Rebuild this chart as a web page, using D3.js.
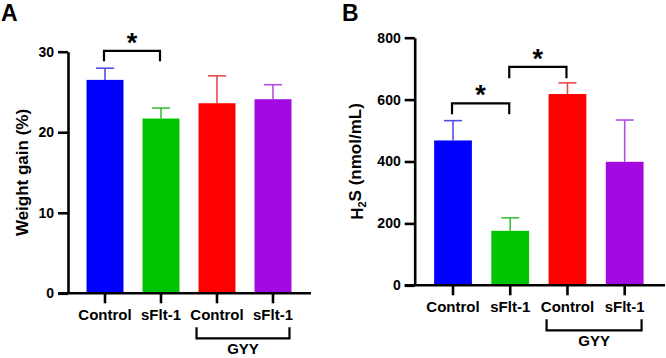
<!DOCTYPE html>
<html>
<head>
<meta charset="utf-8">
<script src="https://cdn.jsdelivr.net/npm/d3@7"></script>
<style>
  body { margin: 0; background: #fff; }
  text { font-family: "Liberation Sans", Arial, sans-serif; font-weight: bold; }
</style>
</head>
<body>
<svg id="chart" width="666" height="358"></svg>
<script>
// data
const categories = ['Control', 'sFlt-1', 'Control', 'sFlt-1'];
const barColors = ['#0000ff', '#00c400', '#ff0000', '#a30ae2'];
const errColors = ['#4f4fe6', '#3cbf3c', '#e84a4a', '#b44ee6'];

const weightGain = [26.5, 21.7, 23.6, 24.1];
const weightGainErr = [1.45, 1.3, 3.4, 1.8];
const weightTicks = [0, 10, 20, 30];

const h2s = [468, 176, 618, 399];
const h2sErr = [64, 42, 36, 135];
const h2sTicks = [0, 200, 400, 600, 800];

// significance brackets: [from, to, level, leftLeg, rightLeg]
const weightSig = [[0, 1, 30.1, 28.8, 28.8]];
const h2sSig = [[0, 1, 588, 553, 553], [1, 2, 706, 669, 669]];

const svg = d3.select('#chart');

function panel(opt) {
  const g = svg.append('g');
  const y = d3.scaleLinear().domain([0, opt.max]).range([opt.bottom, opt.top]);
  const x = d3.scaleBand().domain(d3.range(categories.length))
    .range(opt.xRange).paddingInner(0.34).paddingOuter(0.17);
  const bw = x.bandwidth();
  const cx = i => x(i) + bw / 2;

  // bars
  g.selectAll('.bar').data(opt.values).enter().append('rect')
    .attr('x', (d, i) => x(i))
    .attr('y', d => y(d))
    .attr('width', bw)
    .attr('height', d => y(0) - y(d))
    .attr('fill', (d, i) => barColors[i]);

  // upper error bars
  const eb = g.selectAll('.err').data(opt.values).enter().append('g');
  eb.append('line')
    .attr('x1', (d, i) => cx(i)).attr('x2', (d, i) => cx(i))
    .attr('y1', d => y(d)).attr('y2', (d, i) => y(d + opt.errs[i]))
    .attr('stroke', (d, i) => errColors[i]).attr('stroke-width', 1.6);
  eb.append('line')
    .attr('x1', (d, i) => cx(i) - 9).attr('x2', (d, i) => cx(i) + 9)
    .attr('y1', (d, i) => y(d + opt.errs[i])).attr('y2', (d, i) => y(d + opt.errs[i]))
    .attr('stroke', (d, i) => errColors[i]).attr('stroke-width', 1.6);

  // y axis
  const ya = g.append('g').attr('transform', `translate(${opt.axisX},0)`)
    .call(d3.axisLeft(y).tickValues(opt.ticks).tickSize(10).tickSizeOuter(0).tickPadding(4));
  ya.select('.domain').attr('stroke-width', 2.6);
  ya.selectAll('.tick line').attr('stroke-width', 2.6);
  ya.selectAll('.tick text').attr('font-size', 14).attr('fill', '#000')
    .style('font-family', '"Liberation Sans", Arial, sans-serif').style('font-weight', 'bold');

  // x axis
  const xa = g.append('g').attr('transform', `translate(0,${y(0)})`)
    .call(d3.axisBottom(x).tickFormat(i => categories[i]).tickSize(10).tickSizeOuter(0).tickPadding(6));
  xa.select('.domain').remove();
  xa.selectAll('.tick line').attr('stroke-width', 2.6);
  xa.selectAll('.tick text').attr('font-size', 15).attr('fill', '#000')
    .style('font-family', '"Liberation Sans", Arial, sans-serif').style('font-weight', 'bold');
  g.append('line')
    .attr('x1', opt.axisX - 10).attr('x2', opt.xEnd)
    .attr('y1', y(0)).attr('y2', y(0))
    .attr('stroke', '#000').attr('stroke-width', 2.6);

  // GYY group bracket
  const y0 = y(0);
  const gx1 = x(2) - 2, gx2 = x(3) + bw - 2;
  g.append('path')
    .attr('d', `M${gx1},${y0 + 34}V${y0 + 45}H${gx2}V${y0 + 34}`)
    .attr('fill', 'none').attr('stroke', '#000').attr('stroke-width', 2.2);
  g.append('text').attr('x', (gx1 + gx2) / 2).attr('y', y0 + 61)
    .attr('text-anchor', 'middle').attr('font-size', 15).text('GYY');

  // significance brackets
  opt.sig.forEach(s => {
    const x1 = cx(s[0]) - 1, x2 = cx(s[1]) - 1;
    g.append('path')
      .attr('d', `M${x1},${y(s[3])}V${y(s[2])}H${x2}V${y(s[4])}`)
      .attr('fill', 'none').attr('stroke', '#000').attr('stroke-width', 2.2);
    g.append('text').attr('x', (x1 + x2) / 2).attr('y', y(s[2]) + 1)
      .attr('text-anchor', 'middle').attr('font-size', 27).text('*');
  });

  // axis title
  const t = g.append('text')
    .attr('transform', `translate(${opt.titleX},${(opt.top + opt.bottom) / 2}) rotate(-90)`)
    .attr('text-anchor', 'middle').attr('dy', '0.35em').attr('font-size', 17);
  opt.title(t);

  // panel letter
  g.append('text').attr('x', opt.letterX).attr('y', 21).attr('font-size', 23).text(opt.letter);
}

panel({
  letter: 'A', letterX: 1,
  values: weightGain, errs: weightGainErr, ticks: weightTicks, max: 30,
  top: 51.7, bottom: 293.3, axisX: 68, xRange: [77, 301], xEnd: 311,
  titleX: 22, sig: weightSig,
  title: t => t.text('Weight gain (%)')
});

panel({
  letter: 'B', letterX: 342,
  values: h2s, errs: h2sErr, ticks: h2sTicks, max: 800,
  top: 37.7, bottom: 285.3, axisX: 414.7, xRange: [424.4, 653.3], xEnd: 665,
  titleX: 357, sig: h2sSig,
  title: t => {
    t.append('tspan').text('H');
    t.append('tspan').attr('font-size', 11).attr('dy', '0.3em').text('2');
    t.append('tspan').attr('dy', '-0.3em').text('S (nmol/mL)');
  }
});
</script>
</body>
</html>
